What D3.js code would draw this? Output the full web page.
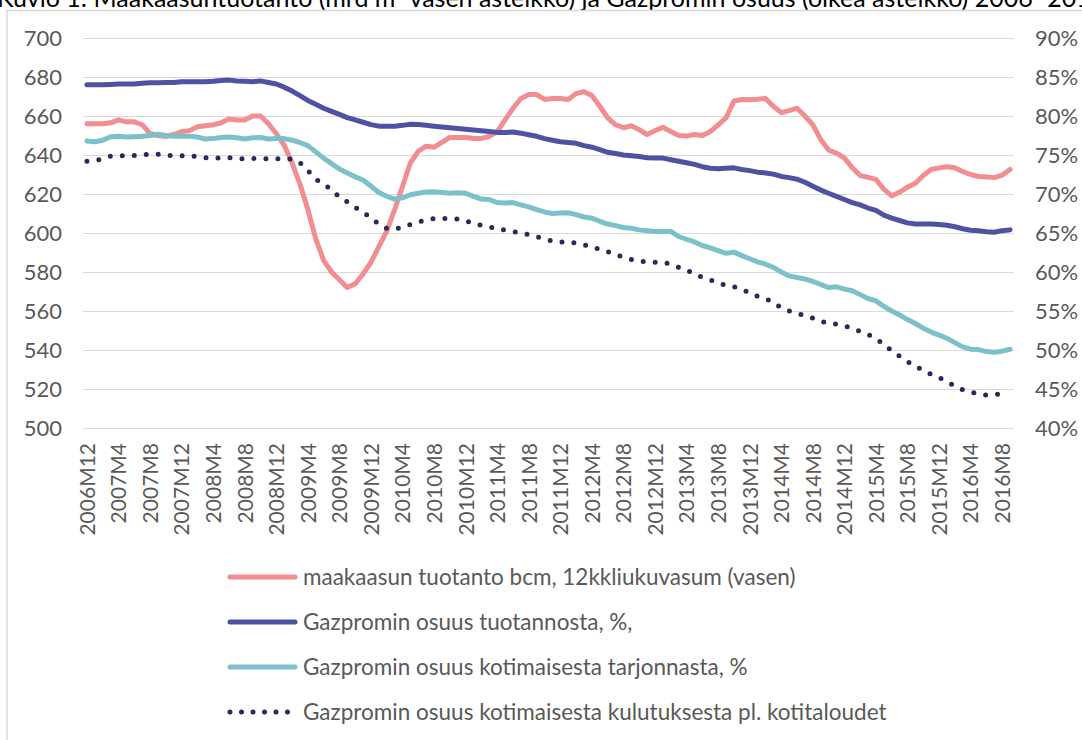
<!DOCTYPE html>
<meta charset="utf-8">
<style>
body { margin: 0; background-color: #ffffff; }
text { font-family: Lato, "Open Sans", sans-serif; fill: #595959; }
.axis path { display: none; }
.grid line { stroke: #D9D9D9; stroke-width: 1.5px; shape-rendering: crispEdges; }
</style>
<body>
<script src="https://d3js.org/d3.v7.min.js"></script>
<script>
// categories: monthly, 2006M12 .. 2016M9
var months = [];
for (var y = 2006; y <= 2016; y++) {
  for (var m = 1; m <= 12; m++) {
    if ((y === 2006 && m < 12) || (y === 2016 && m > 9)) continue;
    months.push(y + "M" + m);
  }
}

var leftTicks = [500, 520, 540, 560, 580, 600, 620, 640, 660, 680, 700];
var rightTicks = [0.40, 0.45, 0.50, 0.55, 0.60, 0.65, 0.70, 0.75, 0.80, 0.85, 0.90];

// maakaasun tuotanto bcm, 12kk liukuva summa (left axis)
var production = [
  656, 656, 656, 656.5, 658, 657, 657, 655.5, 651, 650,
  649.5, 650.5, 652, 652.5, 654.5, 655, 655.5, 656.5, 658.5, 658,
  658, 660, 660, 656, 651, 645, 636, 625, 612, 597,
  586, 580, 576, 572, 574, 579, 585, 593, 601, 612,
  624, 636, 642, 644.5, 644, 646.5, 649, 649, 649, 648.5,
  648.5, 649.5, 652, 658, 664, 669, 671, 671, 668.5, 669,
  669, 668.5, 671.5, 672.5, 670.5, 665, 659, 655.5, 654, 655,
  653, 650.5, 652.5, 654.2, 652, 650, 649.7, 650.5, 650, 652,
  655.5, 659, 667.7, 668.5, 668.3, 668.6, 669, 665, 661.7, 662.8,
  664, 660, 655.5, 648, 642.5, 641, 638.5, 633.5, 629.5, 628.5,
  627.5, 622.5, 619, 621, 623.5, 625.5, 629.5, 632.6, 633.4, 634,
  633.5, 631.5, 630, 629, 628.7, 628.4, 629.7, 632.6
];

// Gazpromin osuus tuotannosta, %
var shareProduction = [
  84.0, 84.0, 84.0, 84.05, 84.1, 84.1, 84.1, 84.2, 84.25, 84.25,
  84.3, 84.3, 84.4, 84.4, 84.4, 84.4, 84.45, 84.55, 84.6, 84.5,
  84.45, 84.4, 84.5, 84.3, 84.1, 83.7, 83.2, 82.6, 82.0, 81.5,
  81.0, 80.6, 80.2, 79.8, 79.5, 79.2, 78.9, 78.7, 78.7, 78.7,
  78.8, 78.95, 78.9, 78.8, 78.7, 78.6, 78.5, 78.4, 78.3, 78.2,
  78.1, 78.0, 77.9, 77.9, 77.95, 77.8, 77.6, 77.4, 77.1, 76.9,
  76.7, 76.6, 76.5, 76.2, 76.0, 75.7, 75.35, 75.2, 75.0, 74.9,
  74.8, 74.65, 74.6, 74.6, 74.4, 74.2, 74.0, 73.8, 73.5, 73.3,
  73.25, 73.3, 73.35, 73.15, 73.0, 72.8, 72.7, 72.55, 72.25, 72.1,
  71.9, 71.5, 71.0, 70.5, 70.1, 69.7, 69.3, 68.9, 68.6, 68.2,
  67.9, 67.3, 66.9, 66.6, 66.3, 66.15, 66.15, 66.15, 66.1, 66.0,
  65.8, 65.55, 65.35, 65.3, 65.15, 65.1, 65.3, 65.4
];

// Gazpromin osuus kotimaisesta tarjonnasta, %
var shareSupply = [
  76.8, 76.7, 76.9, 77.35, 77.4, 77.3, 77.35, 77.4, 77.5, 77.65,
  77.5, 77.4, 77.4, 77.4, 77.3, 77.05, 77.1, 77.25, 77.3, 77.2,
  77.05, 77.2, 77.25, 77.05, 77.1, 77.1, 76.9, 76.6, 76.2, 75.4,
  74.6, 73.9, 73.2, 72.7, 72.2, 71.8, 71.0, 70.2, 69.7, 69.35,
  69.5, 69.9, 70.1, 70.25, 70.3, 70.2, 70.1, 70.15, 70.1, 69.7,
  69.35, 69.3, 68.9, 68.85, 68.9, 68.6, 68.35, 68.0, 67.7, 67.5,
  67.55, 67.6, 67.35, 67.05, 66.9, 66.5, 66.15, 65.95, 65.7, 65.6,
  65.4, 65.3, 65.2, 65.2, 65.2, 64.55, 64.2, 63.85, 63.4, 63.1,
  62.75, 62.4, 62.55, 62.1, 61.7, 61.3, 61.0, 60.6, 60.0, 59.5,
  59.3, 59.1, 58.8, 58.4, 58.0, 58.1, 57.8, 57.6, 57.1, 56.6,
  56.3, 55.6, 55.0, 54.5, 53.9, 53.4, 52.8, 52.3, 51.9, 51.5,
  50.95, 50.4, 50.1, 50.05, 49.8, 49.7, 49.85, 50.1
];

// Gazpromin osuus kotimaisesta kulutuksesta pl. kotitaloudet, % (no value for 2016M9)
var shareConsumption = [
  74.2, 74.3, 74.5, 74.85, 74.9, 74.9, 74.95, 75.05, 75.1, 75.1,
  75.0, 74.9, 74.9, 74.9, 74.8, 74.65, 74.6, 74.65, 74.65, 74.6,
  74.5, 74.55, 74.6, 74.5, 74.5, 74.55, 74.45, 74.0, 73.0, 71.9,
  71.2, 70.6, 69.6, 69.0, 68.3, 67.6, 67.0, 66.1, 65.6, 65.55,
  65.7, 66.1, 66.4, 66.7, 66.85, 66.9, 66.8, 66.8, 66.6, 66.2,
  66.0, 65.8, 65.5, 65.4, 65.2, 65.0, 64.8, 64.5, 64.3, 63.95,
  63.85, 63.9, 63.7, 63.5, 63.2, 62.9, 62.6, 62.2, 61.9, 61.6,
  61.4, 61.3, 61.25, 61.25, 61.0, 60.6, 60.2, 59.8, 59.3, 59.0,
  58.6, 58.3, 58.1, 57.8, 57.3, 56.9, 56.6, 56.1, 55.4, 55.0,
  54.7, 54.4, 54.1, 53.7, 53.45, 53.3, 53.1, 52.8, 52.4, 52.0,
  51.5, 50.7, 49.9, 49.2, 48.5, 48.0, 47.3, 46.9, 46.5, 45.9,
  45.4, 44.9, 44.6, 44.4, 44.2, 44.3, 44.4, null
];

var seriesNames = [
  "maakaasun tuotanto bcm, 12kkliukuvasum (vasen)",
  "Gazpromin osuus tuotannosta, %,",
  "Gazpromin osuus kotimaisesta tarjonnasta, %",
  "Gazpromin osuus kotimaisesta kulutuksesta pl. kotitaloudet"
];

var W = 1082, H = 740;
var plot = {left: 83, right: 1014, top: 38, bottom: 428};

var svg = d3.select("body").append("svg")
    .attr("width", W)
    .attr("height", H);

// title, clipped by the top edge of the page as in the source
svg.append("text")
    .attr("x", -3)
    .attr("y", 7)
    .style("font-size", "25px")
    .style("fill", "#000000")
    .text("Kuvio 1: Maakaasuntuotanto (mrd m³  vasen asteikko) ja Gazpromin osuus (oikea asteikko) 2006–2016");

// chart frame
svg.append("path")
    .attr("d", "M7,740 V10.5 H1082")
    .attr("fill", "none")
    .attr("stroke", "#D9D9D9")
    .attr("stroke-width", 1.5);

var x = d3.scalePoint()
    .domain(months)
    .range([plot.left, plot.right])
    .padding(0.5);
var yL = d3.scaleLinear().domain([500, 700]).range([plot.bottom, plot.top]);
var yR = d3.scaleLinear().domain([0.40, 0.90]).range([plot.bottom, plot.top]);

// gridlines
svg.append("g")
    .attr("class", "grid")
    .selectAll("line")
    .data(leftTicks)
  .enter().append("line")
    .attr("x1", plot.left)
    .attr("x2", plot.right)
    .attr("y1", function(d) { return Math.round(yL(d)) + 0.5; })
    .attr("y2", function(d) { return Math.round(yL(d)) + 0.5; });

// left axis
svg.append("g")
    .attr("class", "axis")
    .attr("transform", "translate(" + (plot.left - 21) + ",0)")
    .call(d3.axisLeft(yL).tickValues(leftTicks).tickSize(0).tickPadding(0))
    .selectAll("text")
    .style("font-size", "22px");

// right axis
svg.append("g")
    .attr("class", "axis")
    .attr("transform", "translate(" + (plot.right + 21) + ",0)")
    .call(d3.axisRight(yR).tickValues(rightTicks).tickSize(0).tickPadding(0).tickFormat(d3.format(".0%")))
    .selectAll("text")
    .style("font-size", "22px");

// x axis, every 4th month
var xTicks = months.filter(function(d, i) { return i % 4 === 0; });
svg.append("g")
    .attr("class", "axis")
    .attr("transform", "translate(0," + (plot.bottom + 15) + ")")
    .call(d3.axisBottom(x).tickValues(xTicks).tickSize(0).tickPadding(0))
    .selectAll("text")
    .style("font-size", "21px")
    .style("text-anchor", "end")
    .attr("dy", "0.35em")
    .attr("dx", 0)
    .attr("y", 0)
    .attr("transform", "rotate(-90)");

var colors = ["#F28D91", "#4E52A2", "#7CC1C9", "#262A5C"];

function lineFor(yScale, scale) {
  return d3.line()
      .defined(function(d) { return d != null; })
      .x(function(d, i) { return x(months[i]); })
      .y(function(d) { return yScale(d * scale); });
}

var lines = svg.append("g").attr("fill", "none")
    .attr("stroke-linejoin", "round");

lines.append("path")
    .attr("d", lineFor(yL, 1)(production))
    .attr("stroke", colors[0])
    .attr("stroke-width", 5)
    .attr("stroke-linecap", "round");

lines.append("path")
    .attr("d", lineFor(yR, 0.01)(shareProduction))
    .attr("stroke", colors[1])
    .attr("stroke-width", 5)
    .attr("stroke-linecap", "round");

lines.append("path")
    .attr("d", lineFor(yR, 0.01)(shareSupply))
    .attr("stroke", colors[2])
    .attr("stroke-width", 5)
    .attr("stroke-linecap", "round");

lines.append("path")
    .attr("d", lineFor(yR, 0.01)(shareConsumption))
    .attr("stroke", colors[3])
    .attr("stroke-width", 5)
    .attr("stroke-linecap", "round")
    .attr("stroke-dasharray", "0 12");

// legend
var legendRows = [577, 622, 667, 712];
var legend = svg.append("g");
seriesNames.forEach(function(name, i) {
  var g = legend.append("g").attr("transform", "translate(0," + legendRows[i] + ")");
  g.append("line")
      .attr("x1", 230).attr("x2", 295)
      .attr("y1", 0).attr("y2", 0)
      .attr("stroke", colors[i])
      .attr("stroke-width", 5)
      .attr("stroke-linecap", "round")
      .attr("stroke-dasharray", i === 3 ? "0 11.5" : null);
  g.append("text")
      .attr("x", 303)
      .attr("y", 0)
      .attr("dy", "0.35em")
      .style("font-size", "22.5px")
      .text(name);
});
</script>
</body>
